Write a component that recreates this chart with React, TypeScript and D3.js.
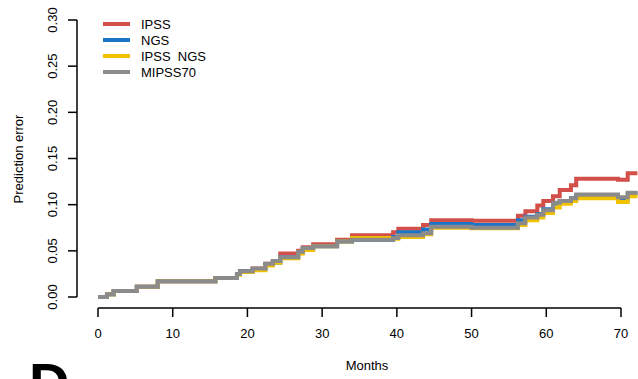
import * as d3 from "d3";

// event times (months) where the curves step
const months = [
  0, 1.2, 2.1, 5.2, 8.0, 15.7, 18.6, 19.0, 20.7, 22.4, 23.4, 24.4, 26.8, 27.4,
  28.8, 32.0, 34.0, 39.5, 40.2, 43.5, 44.6, 50.0, 56.2, 57.2, 58.8, 59.6, 60.9,
  61.8, 63.3, 64.0, 69.6, 70.9, 72.2,
];

const ipss = [
  0, 0.003, 0.0065, 0.011, 0.017, 0.0205, 0.025, 0.028, 0.031, 0.036, 0.039,
  0.047, 0.05, 0.054, 0.057, 0.062, 0.067, 0.07, 0.074, 0.078, 0.083, 0.0825,
  0.088, 0.093, 0.099, 0.104, 0.109, 0.116, 0.121, 0.128, 0.127, 0.134, 0.134,
];

const ngs = [
  0, 0.003, 0.0065, 0.011, 0.017, 0.0205, 0.025, 0.028, 0.03, 0.035, 0.037,
  0.043, 0.048, 0.052, 0.055, 0.06, 0.062, 0.065, 0.07, 0.073, 0.079, 0.078,
  0.083, 0.087, 0.09, 0.095, 0.101, 0.104, 0.107, 0.11, 0.106, 0.112, 0.112,
];

const ipssNgs = [
  0, 0.003, 0.0065, 0.011, 0.017, 0.0205, 0.024, 0.027, 0.029, 0.034, 0.037,
  0.042, 0.047, 0.051, 0.055, 0.06, 0.064, 0.063, 0.065, 0.068, 0.075, 0.0745,
  0.078, 0.083, 0.086, 0.091, 0.097, 0.101, 0.104, 0.107, 0.103, 0.109, 0.109,
];

const mipss70 = [
  0, 0.003, 0.0065, 0.011, 0.017, 0.0205, 0.025, 0.028, 0.031, 0.036, 0.039,
  0.043, 0.049, 0.053, 0.055, 0.06, 0.062, 0.064, 0.067, 0.069, 0.076, 0.075,
  0.08, 0.086, 0.089, 0.094, 0.102, 0.104, 0.107, 0.111, 0.108, 0.113, 0.113,
];

const series = [
  { name: "IPSS", values: ipss, color: "#d24f4a" },
  { name: "NGS", values: ngs, color: "#1b74c5" },
  { name: "IPSS  NGS", values: ipssNgs, color: "#f2c200" },
  { name: "MIPSS70", values: mipss70, color: "#8b8b8b" },
];

const xTicks = [0, 10, 20, 30, 40, 50, 60, 70];
const yTicks = [0, 0.05, 0.1, 0.15, 0.2, 0.25, 0.3];

export default function App() {
  const width = 638;
  const height = 379;
  const x = d3.scaleLinear([0, 70], [98, 621]);
  const y = d3.scaleLinear([0, 0.3], [297, 20]);
  const axisY = 308;
  const axisX = 77;
  const font = "'Liberation Sans', Arial, sans-serif";

  const line = d3
    .line<number>()
    .x((_, i) => x(months[i]))
    .y((v) => y(v))
    .curve(d3.curveStepAfter);

  return (
    <svg
      width={width}
      height={height}
      viewBox={`0 0 ${width} ${height}`}
      style={{ position: "absolute", left: 0, top: 0, background: "#fff" }}
      fontFamily={font}
    >
      {series.map((s) => (
        <path
          key={s.name}
          d={line(s.values) ?? undefined}
          fill="none"
          stroke={s.color}
          strokeWidth={4}
        />
      ))}

      {/* y axis */}
      <line x1={axisX} x2={axisX} y1={y(0)} y2={y(0.3)} stroke="#000" strokeWidth={1.5} />
      {yTicks.map((t) => (
        <g key={t}>
          <line x1={axisX - 9} x2={axisX} y1={y(t)} y2={y(t)} stroke="#000" strokeWidth={1.5} />
          <text
            transform={`translate(${axisX - 20},${y(t)}) rotate(-90)`}
            textAnchor="middle"
            fontSize={13}
          >
            {t.toFixed(2)}
          </text>
        </g>
      ))}
      <text
        transform={`translate(23,159) rotate(-90)`}
        textAnchor="middle"
        fontSize={13}
      >
        Prediction error
      </text>

      {/* x axis */}
      <line x1={x(0)} x2={x(70)} y1={axisY} y2={axisY} stroke="#000" strokeWidth={1.5} />
      {xTicks.map((t) => (
        <g key={t}>
          <line x1={x(t)} x2={x(t)} y1={axisY} y2={axisY + 9} stroke="#000" strokeWidth={1.5} />
          <text x={x(t)} y={338} textAnchor="middle" fontSize={13}>
            {t}
          </text>
        </g>
      ))}
      <text x={367} y={370} textAnchor="middle" fontSize={13}>
        Months
      </text>

      {/* legend */}
      {series.map((s, i) => (
        <g key={s.name}>
          <line
            x1={103}
            x2={130}
            y1={24 + i * 16}
            y2={24 + i * 16}
            stroke={s.color}
            strokeWidth={4}
          />
          <text
            x={141}
            y={24 + i * 16 + 4.5}
            fontSize={13}
            style={{ whiteSpace: "pre" }}
          >
            {s.name}
          </text>
        </g>
      ))}

      <text x={29} y={402} fontSize={56} fontWeight="bold">
        D
      </text>
    </svg>
  );
}
